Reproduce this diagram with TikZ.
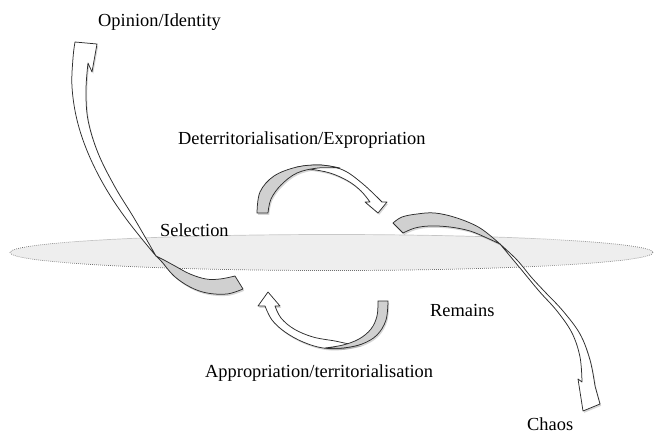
\documentclass[tikz,border=0pt]{standalone}
\usepackage{fontspec}
\setmainfont{Liberation Serif}
\definecolor{ribbongray}{RGB}{208,208,208}
\definecolor{discfill}{RGB}{238,238,238}
\definecolor{discline}{RGB}{110,110,110}
\definecolor{edge}{RGB}{45,45,45}

% Twisted ribbon arrows: each is a gray (under side) piece and a white (upper side) piece
% top arrow
\def\topW{plot[smooth,tension=.6] coordinates {(297,167) (320,165) (343,170) (363,184) (382,202)}
  -- (387,202) -- (378,213) -- (365,202) -- (370,202)
  -- plot[smooth,tension=.6] coordinates {(370,202) (361,191) (348,181) (330,173) (310,169) (297,167)} -- cycle}
\def\topG{plot[smooth,tension=.6] coordinates {(257,213) (260,192) (274,176) (297,167) (320,165) (340,168)}
  -- plot[smooth,tension=.6] coordinates {(340,168) (318,168) (297,173) (281,185) (271,199) (268,213)} -- cycle}
% bottom arrow
\def\botW{plot[smooth,tension=.6] coordinates {(362,344) (343,348) (323,348) (303,342) (285,332) (272,320) (265,306)}
  -- (258,306) -- (268,292) -- (280,306) -- (275,306)
  -- plot[smooth,tension=.6] coordinates {(275,306) (281,318) (294,329) (313,337) (335,341) (350,344) (362,344)} -- cycle}
\def\botG{plot[smooth,tension=.6] coordinates {(388,301) (386,320) (377,335) (362,344) (343,348) (325,348)}
  -- plot[smooth,tension=.6] coordinates {(325,348) (343,345) (359,339) (371,329) (377,316) (378,301)} -- cycle}
% rising arrow on the left
\def\leftW{plot[smooth,tension=.6] coordinates {(156,256) (127,220) (105,187) (88,153) (77,120) (72,87) (73,58) (75,42)}
  -- (97,44) -- (92,72) -- (88,63)
  -- plot[smooth,tension=.6] coordinates {(88,63) (86,90) (88,120) (98,153) (115,187) (134,218) (156,256)} -- cycle}
\def\leftG{plot[smooth,tension=.6] coordinates {(156,256) (162,262) (174,276) (190,287) (207,293) (227,294) (243,289)}
  -- (235,276)
  -- plot[smooth,tension=.6] coordinates {(235,276) (220,279) (206,279) (190,274) (175,266) (164,260) (156,256)} -- cycle}
% falling arrow on the right
\def\rightG{plot[smooth,tension=.6] coordinates {(393,223) (402,217) (417,214) (435,213) (457,218) (480,228) (500,244)}
  -- plot[smooth,tension=.6] coordinates {(500,244) (487,238) (470,231) (450,227) (430,226) (415,228) (403,233)} -- cycle}
\def\rightW{plot[smooth,tension=.6] coordinates {(500,244) (517,260) (532,278) (546,293) (563,311) (580,334) (590,360) (595,386)}
  -- (600,404) -- (583,411) -- (578,379) -- (582,382)
  -- plot[smooth,tension=.6] coordinates {(582,382) (580,357) (572,333) (557,311) (539,291) (520,268) (500,244)} -- cycle}

\begin{document}
\begin{tikzpicture}[x=1pt,y=-1pt,
  lbl/.style={font=\fontsize{18.4}{22}\selectfont, anchor=base west, inner sep=0pt},
  underside/.style={fill=ribbongray, draw=edge, line width=0.75pt, line join=round},
  upperside/.style={fill=white, draw=edge, line width=0.75pt, line join=round},
  softshadow/.style={fill=black, opacity=0.16, shift={(1.2,1.8)}},
  disc/.style={fill=discfill, draw=discline, line width=0.7pt, dash pattern=on 0.7pt off 1.3pt}]
\useasboundingbox (0,0) rectangle (655,434);

% the plane
\path[disc] (331.5,252.5) ellipse [x radius=321.5, y radius=18];

% shadows
\foreach \p in {\topW,\topG,\botW,\botG,\leftW,\leftG,\rightG,\rightW}
  {\fill[softshadow] \p;}

% ribbons
\filldraw[upperside] \topW;
\filldraw[underside] \topG;
\filldraw[upperside] \botW;
\filldraw[underside] \botG;
\filldraw[upperside] \leftW;
\filldraw[underside] \leftG;
\filldraw[underside] \rightG;
\filldraw[upperside] \rightW;

% labels
\node[lbl] (opinion) at (98,26) {Opinion/Identity};
\node[lbl] (deterr) at (178,144) {Deterritorialisation/Expropriation};
\node[lbl] (selection) at (160,236) {Selection};
\node[lbl] (remains) at (430,316) {Remains};
\node[lbl] (approp) at (205,377) {Appropriation/territorialisation};
\node[lbl] (chaos) at (527,430.5) {Chaos};
\end{tikzpicture}
\end{document}
